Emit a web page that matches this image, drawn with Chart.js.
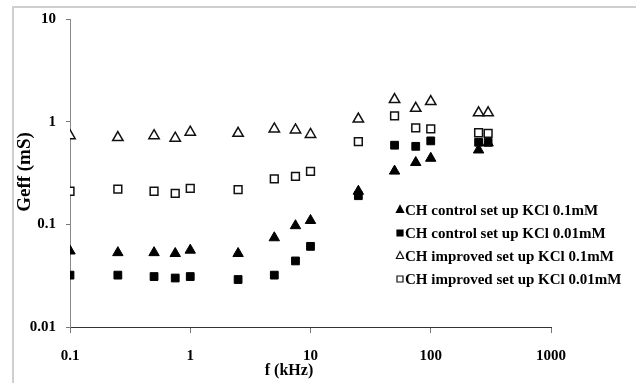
<!DOCTYPE html>
<html>
<head>
<meta charset="utf-8">
<script src="https://cdn.jsdelivr.net/npm/chart.js@4.4.1/dist/chart.umd.min.js"></script>
<style>
  html, body { margin: 0; padding: 0; background: #fff; }
</style>
</head>
<body>
<canvas id="geffPlot" width="636" height="383"></canvas>
<script>
// frequency in kHz
const freqs = [0.1, 0.25, 0.5, 0.75, 1, 2.5, 5, 7.5, 10, 25, 50, 75, 100, 250, 300];

// Geff in mS
const controlKcl01 = [0.055, 0.053, 0.053, 0.052, 0.056, 0.052, 0.074, 0.097, 0.109, 0.21, 0.33, 0.40, 0.44, 0.53, 0.62];
const controlKcl001 = [0.032, 0.032, 0.031, 0.030, 0.031, 0.029, 0.032, 0.044, 0.061, 0.19, 0.59, 0.575, 0.65, 0.63, 0.63];
const improvedKcl01 = [0.73, 0.70, 0.73, 0.69, 0.79, 0.77, 0.85, 0.83, 0.75, 1.06, 1.64, 1.35, 1.57, 1.22, 1.22];
const improvedKcl001 = [0.21, 0.22, 0.21, 0.20, 0.224, 0.218, 0.277, 0.293, 0.328, 0.64, 1.14, 0.87, 0.85, 0.78, 0.77];

const seriesLabels = [
    'CH control set up KCl 0.1mM',
    'CH control set up KCl 0.01mM',
    'CH improved set up KCl 0.1mM',
    'CH improved set up KCl 0.01mM'
];

const xTickValues = [0.1, 1, 10, 100, 1000];
const xTickLabels = ['0.1', '1', '10', '100', '1000'];
const yTickValues = [0.01, 0.1, 1, 10];
const yTickLabels = ['0.01', '0.1', '1', '10'];

const serif = '"Liberation Serif", "Times New Roman", serif';

function toPoints(ys) {
    return freqs.map((f, i) => ({ x: f, y: ys[i] }));
}

// page frame, axis titles and the legend inside the plot
const decorPlugin = {
    id: 'decor',
    beforeDraw(chart) {
        const ctx = chart.ctx;
        ctx.save();
        ctx.fillStyle = '#fff';
        ctx.fillRect(0, 0, chart.width, chart.height);
        ctx.strokeStyle = '#cfcfcf';
        ctx.lineWidth = 2;
        ctx.beginPath();
        ctx.moveTo(13, chart.height);
        ctx.lineTo(13, 7);
        ctx.lineTo(chart.width, 7);
        ctx.stroke();
        ctx.restore();
    },
    afterDraw(chart) {
        const ctx = chart.ctx;
        ctx.save();
        ctx.fillStyle = '#000';
        ctx.textAlign = 'center';
        ctx.textBaseline = 'middle';

        ctx.font = 'bold 16px ' + serif;
        ctx.fillText('f (kHz)', 289, 371);

        ctx.translate(25, 172);
        ctx.rotate(-Math.PI / 2);
        ctx.font = 'bold 19px ' + serif;
        ctx.fillText('Geff (mS)', 0, 0);
        ctx.restore();

        // legend
        ctx.save();
        ctx.font = 'bold 15px ' + serif;
        ctx.textAlign = 'left';
        ctx.textBaseline = 'middle';
        chart.data.datasets.forEach((ds, i) => {
            const x = 400;
            const y = 210 + i * 23;
            ctx.beginPath();
            if (ds.pointStyle === 'triangle') {
                ctx.moveTo(x, y - 4.5);
                ctx.lineTo(x + 3.6, y + 2.5);
                ctx.lineTo(x - 3.6, y + 2.5);
                ctx.closePath();
            } else {
                ctx.rect(x - 3, y - 3, 6, 6);
            }
            ctx.fillStyle = ds.backgroundColor;
            ctx.fill();
            ctx.lineWidth = 1.2;
            ctx.strokeStyle = ds.borderColor;
            ctx.stroke();
            ctx.fillStyle = '#000';
            ctx.fillText(ds.label, 405, y + 1);
        });
        ctx.restore();
    }
};

const ctx = document.getElementById('geffPlot').getContext('2d');
const geffPlot = new Chart(ctx, {
    type: 'scatter',
    data: {
        datasets: [{
            label: seriesLabels[0],
            data: toPoints(controlKcl01),
            pointStyle: 'triangle',
            pointRadius: 6,
            backgroundColor: '#000',
            borderColor: '#000',
            borderWidth: 1,
            order: 4
        }, {
            label: seriesLabels[1],
            data: toPoints(controlKcl001),
            pointStyle: 'rect',
            pointRadius: 5.5,
            backgroundColor: '#000',
            borderColor: '#000',
            borderWidth: 1,
            order: 3
        }, {
            label: seriesLabels[2],
            data: toPoints(improvedKcl01),
            pointStyle: 'triangle',
            pointRadius: 6,
            backgroundColor: '#fff',
            borderColor: '#111',
            borderWidth: 1.5,
            order: 2
        }, {
            label: seriesLabels[3],
            data: toPoints(improvedKcl001),
            pointStyle: 'rect',
            pointRadius: 5.5,
            backgroundColor: '#fff',
            borderColor: '#111',
            borderWidth: 1.5,
            order: 1
        }]
    },
    options: {
        responsive: false,
        animation: false,
        events: [],
        layout: {
            padding: { left: 0, top: 19, right: 85, bottom: 0 }
        },
        scales: {
            x: {
                type: 'logarithmic',
                min: 0.1,
                max: 1000,
                afterBuildTicks: (scale) => {
                    scale.ticks = xTickValues.map(v => ({ value: v }));
                },
                afterFit: (scale) => { scale.height = 56; },
                ticks: {
                    autoSkip: false,
                    maxRotation: 0,
                    padding: 14,
                    color: '#000',
                    font: { family: serif, size: 15, weight: 'bold' },
                    callback: (value) => xTickLabels[xTickValues.indexOf(value)]
                },
                grid: {
                    drawOnChartArea: false,
                    drawTicks: true,
                    tickLength: 6,
                    tickColor: '#777'
                },
                border: { color: '#333', width: 1 }
            },
            y: {
                type: 'logarithmic',
                min: 0.01,
                max: 10,
                afterBuildTicks: (scale) => {
                    scale.ticks = yTickValues.map(v => ({ value: v }));
                },
                afterFit: (scale) => { scale.width = 70; },
                ticks: {
                    autoSkip: false,
                    padding: 10,
                    color: '#000',
                    font: { family: serif, size: 15, weight: 'bold' },
                    callback: (value) => yTickLabels[yTickValues.indexOf(value)]
                },
                grid: {
                    drawOnChartArea: false,
                    drawTicks: true,
                    tickLength: 4,
                    tickColor: '#777'
                },
                border: { color: '#888', width: 1 }
            }
        },
        plugins: {
            legend: { display: false },
            tooltip: { enabled: false }
        }
    },
    plugins: [decorPlugin]
});
</script>
</body>
</html>
